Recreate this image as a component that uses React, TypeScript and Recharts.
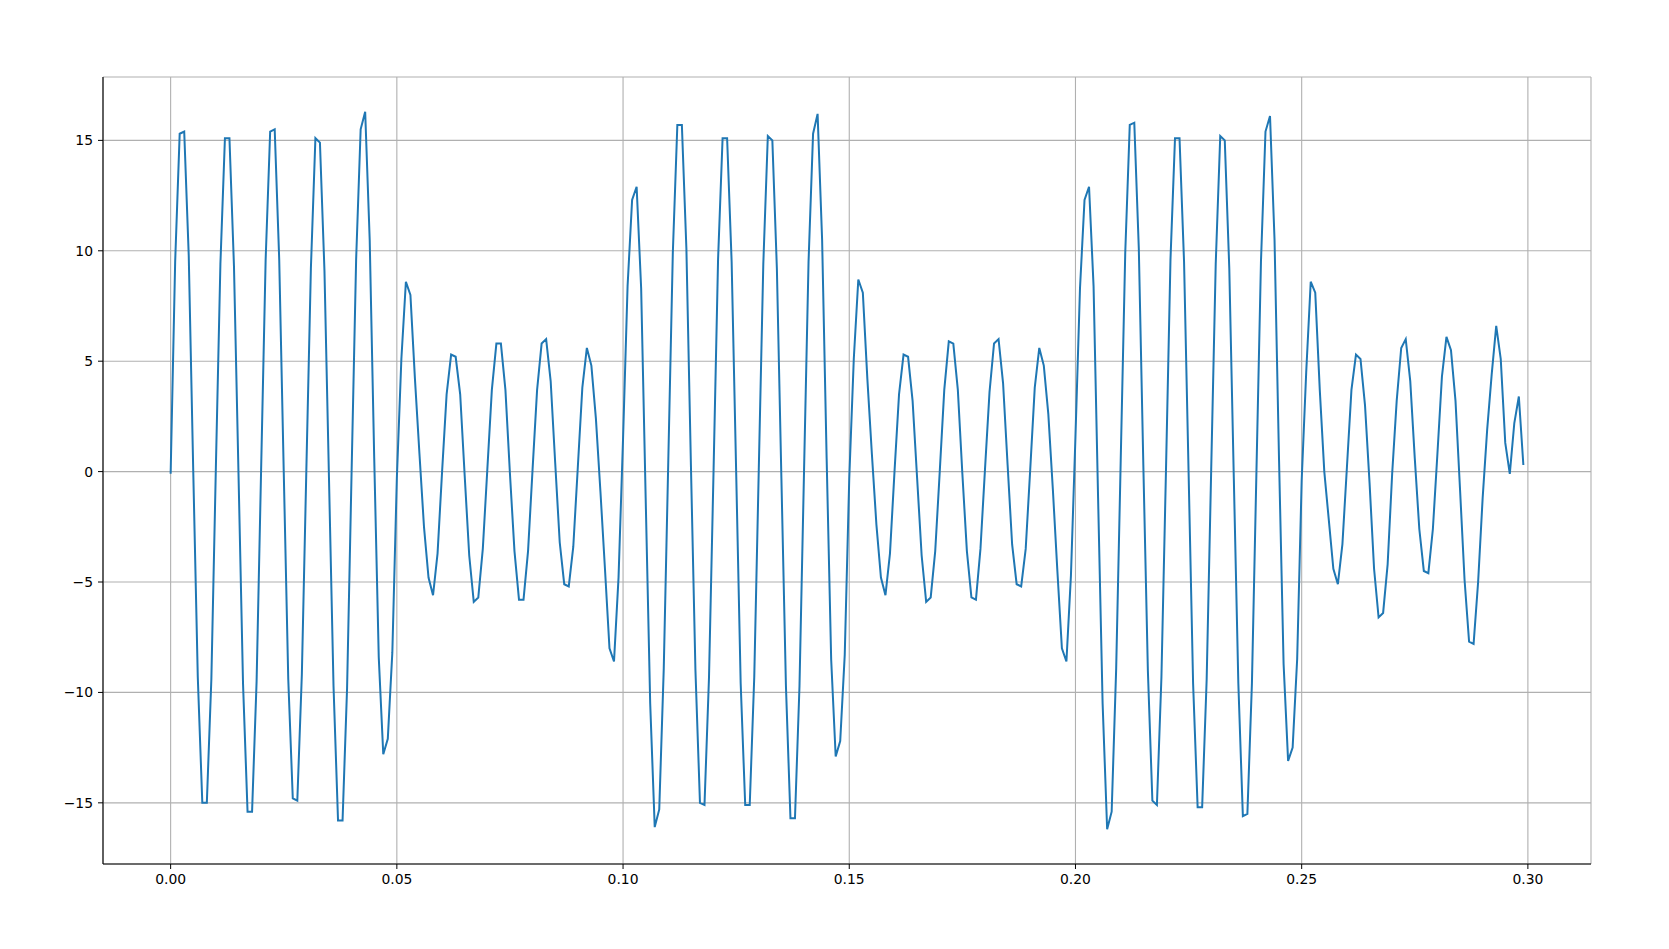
import { LineChart, Line, XAxis, YAxis, CartesianGrid } from "recharts";

const SAMPLE_STEP = 0.001;

const segmentA = [
  -0.1, 9.5, 15.3, 15.4, 9.8, 0.0, -9.3, -15.0, -15.0, -9.4,
  0.2, 9.4, 15.1, 15.1, 9.3, -0.1, -9.6, -15.4, -15.4, -9.5,
  0.1, 9.6, 15.4, 15.5, 9.6, 0.0, -9.4, -14.8, -14.9, -9.2,
  0.1, 9.2, 15.1, 14.9, 9.1, -0.3, -9.7, -15.8, -15.8, -9.8,
  0.0, 9.6, 15.5, 16.3, 10.5, 0.6, -8.4, -12.8, -12.1, -8.2,
  -0.3, 5.1, 8.6, 8.0, 4.2, 0.8, -2.5, -4.8, -5.6, -3.7,
  0.0, 3.5, 5.3, 5.2, 3.5, -0.2, -3.8, -5.9, -5.7, -3.5,
  0.1, 3.7, 5.8, 5.8, 3.7, -0.1, -3.6, -5.8, -5.8, -3.6,
  0.1, 3.7, 5.8, 6.0, 4.1, 0.4, -3.2, -5.1, -5.2, -3.4,
  0.2, 3.8, 5.6, 4.8, 2.4, -0.9, -4.4, -8.0, -8.6, -4.8,
];

const segmentB = [
  1.5, 8.4, 12.3, 12.9, 8.3, -1.2, -10.5, -16.1, -15.3, -8.9,
  0.5, 9.9, 15.7, 15.7, 10.1, 0.3, -9.0, -15.0, -15.1, -9.3,
  0.0, 9.6, 15.1, 15.1, 9.5, 0.0, -9.6, -15.1, -15.1, -9.3,
  0.1, 9.4, 15.2, 15.0, 9.2, -0.3, -9.7, -15.7, -15.7, -9.7,
  0.0, 9.5, 15.3, 16.2, 10.5, 0.6, -8.5, -12.9, -12.2, -8.3,
  -0.3, 5.1, 8.7, 8.1, 4.2, 0.8, -2.4, -4.8, -5.6, -3.7,
  0.0, 3.5, 5.3, 5.2, 3.2, -0.3, -3.8, -5.9, -5.7, -3.6,
  0.0, 3.7, 5.9, 5.8, 3.7, -0.1, -3.6, -5.7, -5.8, -3.5,
  0.1, 3.6, 5.8, 6.0, 4.0, 0.3, -3.3, -5.1, -5.2, -3.5,
  0.1, 3.8, 5.6, 4.8, 2.6, -0.8, -4.5, -8.0, -8.6, -4.7,
];

const segmentC = [
  1.6, 8.3, 12.3, 12.9, 8.4, -1.2, -10.5, -16.2, -15.4, -8.9,
  0.5, 9.9, 15.7, 15.8, 10.1, 0.3, -9.0, -14.9, -15.1, -9.3,
  0.0, 9.6, 15.1, 15.1, 9.5, 0.0, -9.6, -15.2, -15.2, -9.4,
  0.1, 9.4, 15.2, 15.0, 9.2, -0.3, -9.6, -15.6, -15.5, -9.6,
  0.0, 9.5, 15.4, 16.1, 10.5, 0.5, -8.7, -13.1, -12.5, -8.5,
  -0.4, 4.5, 8.6, 8.1, 3.7, 0.0, -2.2, -4.4, -5.1, -3.3,
  0.2, 3.7, 5.3, 5.1, 3.0, -0.5, -4.4, -6.6, -6.4, -4.2,
  -0.1, 3.2, 5.6, 6.0, 4.1, 0.6, -2.6, -4.5, -4.6, -2.6,
  0.8, 4.3, 6.1, 5.5, 3.2, -0.8, -4.9, -7.7, -7.8, -5.0,
  -1.2, 1.9, 4.4, 6.6, 5.1, 1.3, -0.1, 2.2, 3.4, 0.3,
];

const xTicks = [0, 0.05, 0.1, 0.15, 0.2, 0.25, 0.3];
const yTicks = [-15, -10, -5, 0, 5, 10, 15];

const data = [...segmentA, ...segmentB, ...segmentC].map((v, i) => ({
  t: i * SAMPLE_STEP,
  v,
}));

const tickStyle = { fill: "#000", fontSize: 13.9, fontFamily: "DejaVu Sans" };
const fmtY = (v: number) => (v < 0 ? "\u2212" + Math.abs(v) : String(v));

export default function App() {
  return (
    <div style={{ width: 1669, height: 949, background: "#fff" }}>
      <style>{"body{margin:0}"}</style>
      <LineChart
        width={1669}
        height={949}
        data={data}
        margin={{ top: 77, right: 78, bottom: 55, left: 43 }}
      >
        <CartesianGrid stroke="#b0b0b0" strokeWidth={1.1} />
        <XAxis
          dataKey="t"
          type="number"
          domain={[-0.01495, 0.31395]}
          ticks={xTicks}
          tickFormatter={(v: number) => v.toFixed(2)}
          allowDataOverflow
          height={30}
          tickSize={5}
          tickMargin={5}
          tick={tickStyle}
          stroke="#000"
          axisLine={{ stroke: "#000", strokeWidth: 1.1 }}
        />
        <XAxis
          xAxisId="top"
          orientation="top"
          dataKey="t"
          type="number"
          domain={[-0.01495, 0.31395]}
          height={0}
          tick={false}
          tickLine={false}
          axisLine={{ stroke: "#000", strokeWidth: 1.1 }}
        />
        <YAxis
          type="number"
          domain={[-17.77, 17.87]}
          ticks={yTicks}
          tickFormatter={fmtY}
          allowDataOverflow
          width={60}
          tickSize={5}
          tickMargin={5}
          tick={tickStyle}
          stroke="#000"
          axisLine={{ stroke: "#000", strokeWidth: 1.1 }}
        />
        <YAxis
          yAxisId="right"
          orientation="right"
          type="number"
          domain={[-17.77, 17.87]}
          width={0}
          tick={false}
          tickLine={false}
          axisLine={{ stroke: "#000", strokeWidth: 1.1 }}
        />
        <Line
          type="linear"
          dataKey="v"
          stroke="#1f77b4"
          strokeWidth={2}
          dot={false}
          isAnimationActive={false}
        />
      </LineChart>
    </div>
  );
}
